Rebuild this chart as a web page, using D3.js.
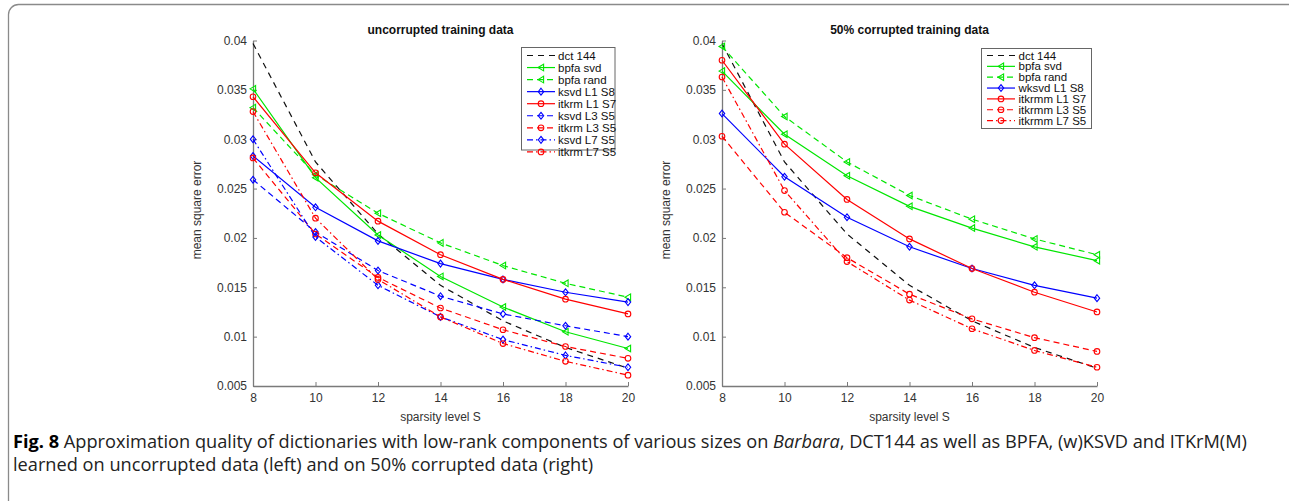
<!DOCTYPE html>
<html><head><meta charset="utf-8">
<script src="https://cdn.jsdelivr.net/npm/d3@7"></script>
<style>body{margin:0;background:#fff;} svg{display:block;}</style>
</head><body><svg id="c" width="1289" height="501"></svg>
<script>
// ---------- data ----------
const sparsity = [8, 10, 12, 14, 16, 18, 20];
const yTickValues = [0.005, 0.01, 0.015, 0.02, 0.025, 0.03, 0.035, 0.04];
const yTickLabels = ["0.005", "0.01", "0.015", "0.02", "0.025", "0.03", "0.035", "0.04"];
const xTickLabels = ["8", "10", "12", "14", "16", "18", "20"];

const panelTitles = ["uncorrupted training data", "50% corrupted training data"];
const xAxisLabel = "sparsity level S";
const yAxisLabel = "mean square error";

// left panel (uncorrupted)
const leftNames = ["dct 144", "bpfa svd", "bpfa rand", "ksvd L1 S8", "itkrm L1 S7", "ksvd L3 S5", "itkrm L3 S5", "ksvd L7 S5", "itkrm L7 S5"];
const dct144 = [0.0397, 0.0277, 0.0204, 0.0152, 0.0116, 0.0089, 0.0068];
const leftBpfaSvd = [0.0351, 0.0261, 0.0203, 0.0161, 0.0130, 0.0105, 0.0088];
const leftBpfaRand = [0.0332, 0.0264, 0.0225, 0.0195, 0.0172, 0.0154, 0.0140];
const leftKsvdL1 = [0.0283, 0.0231, 0.0197, 0.0174, 0.0158, 0.0145, 0.0135];
const leftItkrmL1 = [0.0343, 0.0266, 0.0217, 0.0183, 0.0158, 0.0138, 0.0123];
const leftKsvdL3 = [0.0259, 0.0206, 0.0167, 0.0141, 0.0123, 0.0111, 0.0100];
const leftItkrmL3 = [0.0281, 0.0204, 0.0160, 0.0129, 0.0107, 0.0090, 0.0078];
const leftKsvdL7 = [0.0300, 0.0201, 0.0152, 0.0120, 0.0097, 0.0081, 0.0069];
const leftItkrmL7 = [0.0328, 0.0220, 0.0158, 0.0120, 0.0093, 0.0075, 0.0061];

// right panel (50% corrupted)
const rightNames = ["dct 144", "bpfa svd", "bpfa rand", "wksvd L1 S8", "itkrmm L1 S7", "itkrmm L3 S5", "itkrmm L7 S5"];
const rightBpfaSvd = [0.0369, 0.0305, 0.0263, 0.0232, 0.0210, 0.0191, 0.0177];
const rightBpfaRand = [0.0394, 0.0323, 0.0277, 0.0243, 0.0219, 0.0199, 0.0183];
const rightWksvdL1 = [0.0326, 0.0262, 0.0221, 0.0191, 0.0169, 0.0152, 0.0139];
const rightItkrmmL1 = [0.0380, 0.0295, 0.0239, 0.0199, 0.0169, 0.0145, 0.0125];
const rightItkrmmL3 = [0.0303, 0.0226, 0.0180, 0.0143, 0.0118, 0.0099, 0.0085];
const rightItkrmmL7 = [0.0363, 0.0248, 0.0176, 0.0137, 0.0108, 0.0086, 0.0069];

const captionBold = "Fig. 8";
const captionLine1 = " Approximation quality of dictionaries with low-rank components of various sizes on ";
const captionItalic = "Barbara";
const captionLine1b = ", DCT144 as well as BPFA, (w)KSVD and ITKrM(M)";
const captionLine2 = "learned on uncorrupted data (left) and on 50% corrupted data (right)";

// ---------- styles ----------
const GREEN = "#00e600", BLUE = "#0000ff", RED = "#ff0000", BLACK = "#111";
const DASH = "6,4", DASHDOT = "6,3,1.5,3", SOLID = null, BDASH = "6,5";
const sty = (color, dash, marker) => ({color, dash, marker});
const leftStyles = [sty(BLACK, BDASH, null), sty(GREEN, SOLID, "tri"), sty(GREEN, DASH, "tri"),
  sty(BLUE, SOLID, "dia"), sty(RED, SOLID, "circ"), sty(BLUE, DASH, "dia"), sty(RED, DASH, "circ"),
  sty(BLUE, DASHDOT, "dia"), sty(RED, DASHDOT, "circ")];
const rightStyles = [sty(BLACK, BDASH, null), sty(GREEN, SOLID, "tri"), sty(GREEN, DASH, "tri"),
  sty(BLUE, SOLID, "dia"), sty(RED, SOLID, "circ"), sty(RED, DASH, "circ"), sty(RED, DASHDOT, "circ")];

const leftData = [dct144, leftBpfaSvd, leftBpfaRand, leftKsvdL1, leftItkrmL1, leftKsvdL3, leftItkrmL3, leftKsvdL7, leftItkrmL7];
const rightData = [dct144, rightBpfaSvd, rightBpfaRand, rightWksvdL1, rightItkrmmL1, rightItkrmmL3, rightItkrmmL7];

const svg = d3.select("#c");
const FONT = "'Liberation Sans', Arial, Helvetica, sans-serif";

// frame
svg.append("rect").attr("x", 8.5).attr("y", 4.5).attr("width", 1300).attr("height", 520)
  .attr("rx", 10).attr("fill", "#fff").attr("stroke", "#8a8a8a").attr("stroke-width", 1.3);

const panels = [
  {x0: 253, x1: 628, title: panelTitles[0], names: leftNames, data: leftData, styles: leftStyles,
   leg: {x: 521.5, y: 47.5, w: 93.5, h: 102.5, row: 12.05, lx0: 527, lx1: 555, tx: 558}},
  {x0: 722, x1: 1097, title: panelTitles[1], names: rightNames, data: rightData, styles: rightStyles,
   leg: {x: 981.5, y: 48.5, w: 110, h: 80, row: 10.85, lx0: 987, lx1: 1015, tx: 1018.5}}
];

function marker(g, type, cx, cy, color) {
  if (type === "circ") {
    g.append("circle").attr("cx", cx).attr("cy", cy).attr("r", 2.8)
      .attr("fill", "none").attr("stroke", color).attr("stroke-width", 1.1);
  } else if (type === "dia") {
    g.append("path").attr("d", `M${cx},${cy-3.4}L${cx+2.7},${cy}L${cx},${cy+3.4}L${cx-2.7},${cy}Z`)
      .attr("fill", "none").attr("stroke", color).attr("stroke-width", 1.1);
  } else if (type === "tri") {
    g.append("path").attr("d", `M${cx-3},${cy}L${cx+2.6},${cy-3.3}L${cx+2.6},${cy+3.3}Z`)
      .attr("fill", "none").attr("stroke", color).attr("stroke-width", 1.1);
  }
}

panels.forEach(p => {
  const x = d3.scaleLinear().domain([8, 20]).range([p.x0, p.x1]);
  const y = d3.scaleLinear().domain([0.005, 0.04]).range([386, 40.5]);
  const g = svg.append("g");

  // axes
  const yAxis = d3.axisLeft(y).tickValues(yTickValues).tickFormat((d, i) => yTickLabels[i])
    .tickSizeInner(-4).tickSizeOuter(0).tickPadding(6);
  const xAxis = d3.axisBottom(x).tickValues(sparsity).tickFormat((d, i) => xTickLabels[i])
    .tickSizeInner(-4).tickSizeOuter(0).tickPadding(5);
  const ya = g.append("g").attr("transform", `translate(${p.x0},0)`).call(yAxis);
  const xa = g.append("g").attr("transform", `translate(0,386)`).call(xAxis);
  [ya, xa].forEach(a => {
    a.select(".domain").attr("stroke", "#7a7a7a").attr("stroke-width", 1.3);
    a.selectAll(".tick line").attr("stroke", "#7a7a7a");
    a.selectAll("text").attr("font-family", FONT).attr("font-size", 12).attr("fill", "#333");
  });
  xa.selectAll("text").attr("dy", "0.9em");

  // title and labels
  const cx = (p.x0 + p.x1) / 2;
  g.append("text").attr("x", cx).attr("y", 34).attr("text-anchor", "middle")
    .attr("font-family", FONT).attr("font-size", 12).attr("font-weight", "bold").attr("fill", "#111").text(p.title);
  g.append("text").attr("x", cx).attr("y", 421).attr("text-anchor", "middle")
    .attr("font-family", FONT).attr("font-size", 12).attr("fill", "#333").text(xAxisLabel);
  g.append("text").attr("transform", `translate(${p.x0 - 52},210) rotate(-90)`).attr("text-anchor", "middle")
    .attr("font-family", FONT).attr("font-size", 12).attr("fill", "#333").text(yAxisLabel);

  // series
  const line = d3.line().x((d, i) => x(sparsity[i])).y(d => y(d));
  p.data.forEach((vals, si) => {
    const s = p.styles[si];
    g.append("path").datum(vals).attr("d", line).attr("fill", "none")
      .attr("stroke", s.color).attr("stroke-width", 1.2)
      .attr("stroke-dasharray", s.dash);
    if (s.marker) vals.forEach((v, i) => marker(g, s.marker, x(sparsity[i]), y(v), s.color));
  });

  // legend
  const L = p.leg;
  const lg = g.append("g");
  lg.append("rect").attr("x", L.x).attr("y", L.y).attr("width", L.w).attr("height", L.h)
    .attr("fill", "#fff").attr("stroke", "#666").attr("stroke-width", 1);
  p.names.forEach((n, i) => {
    const s = p.styles[i];
    const ry = 55.5 + i * L.row;
    lg.append("line").attr("x1", L.lx0).attr("x2", L.lx1).attr("y1", ry).attr("y2", ry)
      .attr("stroke", s.color).attr("stroke-width", 1.2).attr("stroke-dasharray", s.dash);
    if (s.marker) marker(lg, s.marker, (L.lx0 + L.lx1) / 2, ry, s.color);
    lg.append("text").attr("x", L.tx).attr("y", ry + 4).attr("font-family", FONT).attr("font-size", 11.5)
      .attr("fill", "#111").text(n);
  });
});

// caption
const CFONT = "'Open Sans', 'Noto Sans', sans-serif";
const cap = svg.append("text").attr("x", 13).attr("y", 448).attr("font-family", CFONT).attr("font-size", 18.2).attr("fill", "#222");
cap.append("tspan").attr("font-weight", "bold").attr("fill", "#000").text(captionBold);
cap.append("tspan").text(captionLine1);
cap.append("tspan").attr("font-style", "italic").text(captionItalic);
cap.append("tspan").text(captionLine1b);
svg.append("text").attr("x", 13).attr("y", 471).attr("font-family", CFONT).attr("font-size", 18.2).attr("fill", "#222").text(captionLine2);
</script></body></html>
